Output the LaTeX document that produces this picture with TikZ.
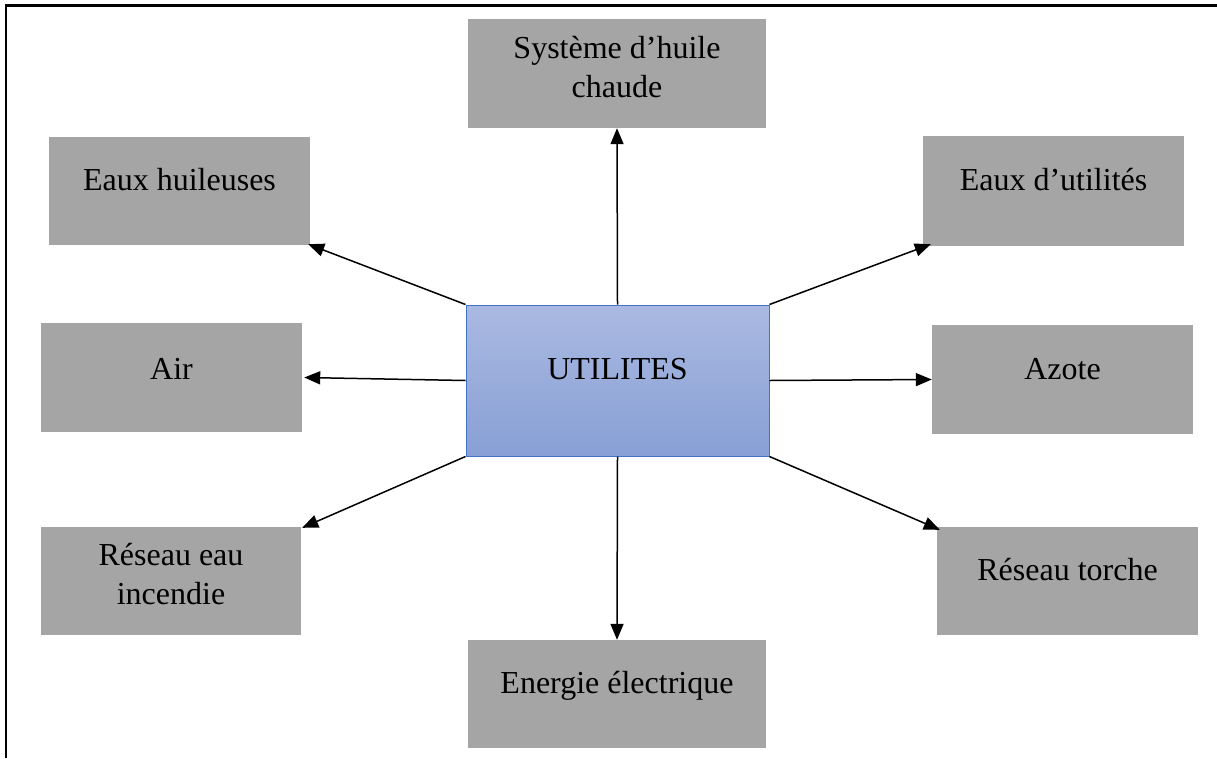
\documentclass[tikz,border=0pt]{standalone}
\usepackage{fontspec}
\setmainfont{Liberation Serif}
\usetikzlibrary{arrows.meta,calc}
\definecolor{boxgray}{RGB}{165,165,165}
\definecolor{utop}{RGB}{170,185,225}
\definecolor{ubot}{RGB}{136,160,213}
\definecolor{uedge}{RGB}{68,114,196}
\begin{document}
\begin{tikzpicture}[x=1pt,y=-1pt,
  graybox/.style={fill=boxgray,draw=none,inner sep=0pt},
  lbl/.style={font=\fontsize{32}{38}\selectfont,inner sep=0pt,anchor=base},
  conn/.style={line width=1.5pt,-{Triangle[length=16pt,width=13pt]}}]
\useasboundingbox (0,0) rectangle (1217,758);
\draw[line width=2.2pt] (6,758) -- (6,5.5) -- (1217,5.5);
% boxes
\node[graybox,minimum width=298pt,minimum height=109pt] (hot) at (617,73.5) {};
\node[graybox,minimum width=261pt,minimum height=108pt] (huil) at (179.5,191) {};
\node[graybox,minimum width=261pt,minimum height=110pt] (util) at (1053.5,191) {};
\node[graybox,minimum width=261pt,minimum height=109pt] (air) at (171.5,377.5) {};
\node[graybox,minimum width=261pt,minimum height=109pt] (azote) at (1062.5,379.5) {};
\node[graybox,minimum width=260pt,minimum height=108pt] (inc) at (171,581) {};
\node[graybox,minimum width=261pt,minimum height=108pt] (torch) at (1067.5,581) {};
\node[graybox,minimum width=298pt,minimum height=108pt] (elec) at (617,694) {};
\node[draw=uedge,line width=1pt,top color=utop,bottom color=ubot,inner sep=0pt,
      minimum width=303pt,minimum height=151pt] (U) at (617.5,380.5) {};
% labels
\node[lbl] (thot1) at (617,58) {Système d’huile};
\node[lbl] (thot2) at (617,97) {chaude};
\node[lbl] (thuil) at (179.5,190) {Eaux huileuses};
\node[lbl] (tutil) at (1053.5,190) {Eaux d’utilités};
\node[lbl] (tair) at (171.5,379) {Air};
\node[lbl] (tU) at (617.5,379) {UTILITES};
\node[lbl] (tazote) at (1062.5,379) {Azote};
\node[lbl] (tinc1) at (171,565) {Réseau eau};
\node[lbl] (tinc2) at (171,604) {incendie};
\node[lbl] (ttorch) at (1067.5,580) {Réseau torche};
\node[lbl] (telec) at (617,693) {Energie électrique};
% connectors
\draw[conn] (U.north) -- (hot.south);
\draw[conn] (U.north west) -- ($(huil.south east)+(-2,-1)$);
\draw[conn] (U.north east) -- ($(util.south west)+(8,-2)$);
\draw[conn] (U.west) -- ($(air.east)+(2,0)$);
\draw[conn] (U.east) -- (azote.west);
\draw[conn] (U.south west) -- ($(inc.north east)+(1,1)$);
\draw[conn] (U.south east) -- ($(torch.north west)+(3,3)$);
\draw[conn] (U.south) -- (elec.north);
\end{tikzpicture}
\end{document}
